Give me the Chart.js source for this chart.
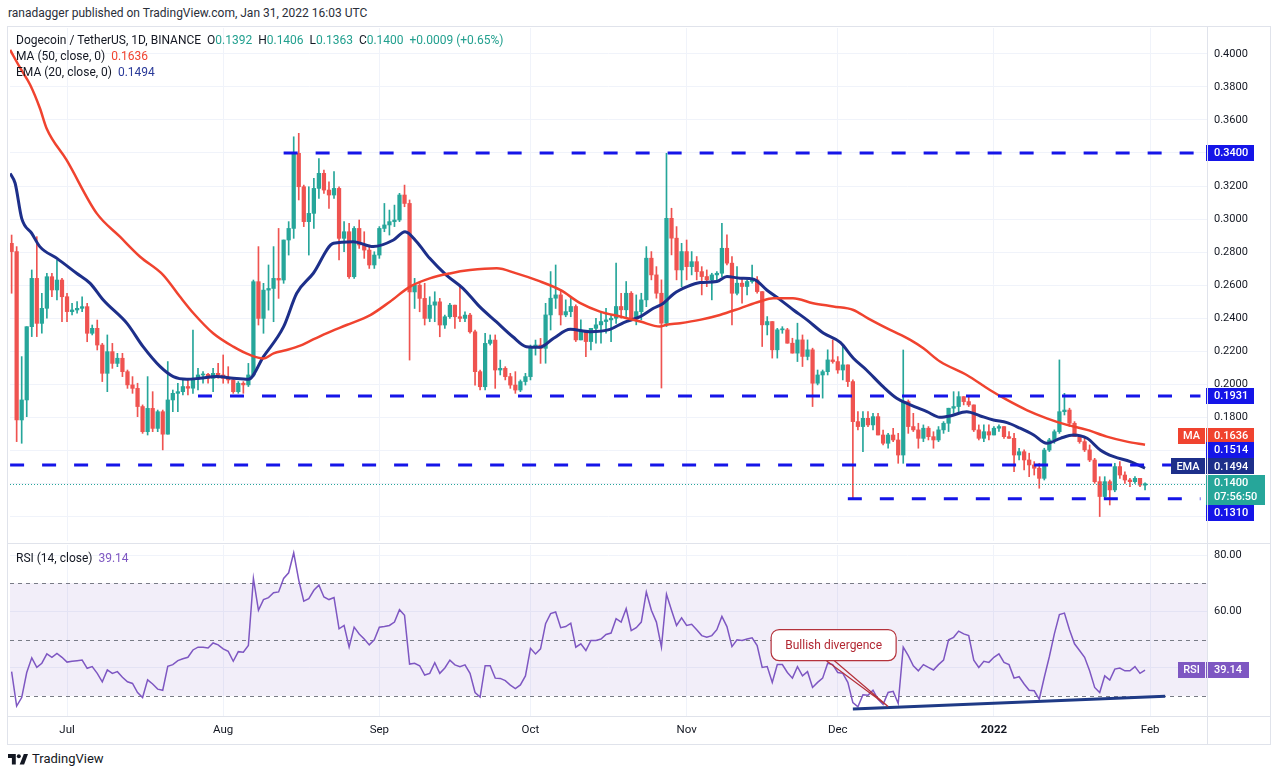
<!DOCTYPE html>
<html>
<head>
<meta charset="utf-8">
<script src="https://cdn.jsdelivr.net/npm/chart.js@4.4.1/dist/chart.umd.min.js"></script>
<style>
  body { margin: 0; background: #fff; font-family: Roboto, "Noto Sans", sans-serif; color: #131722; }
  #wrap { position: relative; width: 1280px; height: 777px; overflow: hidden; }
  canvas { position: absolute; left: 0; }
  .txt { position: absolute; white-space: nowrap; font-size: 12px; line-height: 16px; }
  .ln { position: absolute; background: #e0e3eb; }
  .g { color: #22a08f; }
</style>
</head>
<body>
<div id="wrap">
  <div class="txt" style="left:8px;top:5px;color:#2a2e39">ranadagger published on TradingView.com, Jan 31, 2022 16:03 UTC</div>
  <canvas id="price" width="1280" height="543" style="top:0"></canvas>
  <canvas id="rsi" width="1280" height="201" style="top:543px"></canvas>

  <div class="ln" style="left:7px;top:26px;width:1264px;height:1px"></div>
  <div class="ln" style="left:7px;top:543px;width:1264px;height:1px"></div>
  <div class="ln" style="left:7px;top:716px;width:1264px;height:1px"></div>
  <div class="ln" style="left:7px;top:744px;width:1264px;height:1px"></div>
  <div class="ln" style="left:7px;top:26px;width:1px;height:719px"></div>
  <div class="ln" style="left:1270px;top:26px;width:1px;height:719px"></div>
  <div class="ln" style="left:1207px;top:26px;width:1px;height:719px"></div>

  <div class="txt" style="left:16px;top:32px">Dogecoin / TetherUS, 1D, BINANCE&nbsp; O<span class="g">0.1392</span>&nbsp; H<span class="g">0.1406</span>&nbsp; L<span class="g">0.1363</span>&nbsp; C<span class="g">0.1400</span>&nbsp; <span class="g">+0.0009 (+0.65%)</span></div>
  <div class="txt" style="left:16px;top:48px">MA (50, close, 0)&nbsp; <span style="color:#f0432f">0.1636</span></div>
  <div class="txt" style="left:16px;top:64px">EMA (20, close, 0)&nbsp; <span style="color:#2a3a99">0.1494</span></div>
  <div class="txt" style="left:16px;top:550px">RSI (14, close)&nbsp; <span style="color:#7e57c2">39.14</span></div>

  <div class="txt" style="left:8px;top:751px;font-size:13px;display:flex;align-items:center">
    <svg width="20" height="14" viewBox="0 0 36 24" style="margin-right:4px"><path d="M14 22H7V10H0V3h14v19zM29 22h-8l7.5-19h7.5L29 22z" fill="#131722"/><circle cx="19.5" cy="7" r="3.6" fill="#131722"/></svg>TradingView
  </div>
</div>
<script>
const UP = '#26a69a';
const DOWN = '#ef5350';
const MA_RED = '#f0432f';
const EMA_NAVY = '#1d2f8a';
const LEVEL_BLUE = '#1515e8';
const RSI_PURPLE = '#7e57c2';

// daily candles, day 0 = 20 Jun 2021
const opens = [
  .2854,.2804,.1786,.1907,.2350,.2642,.2370,.2461,.2652,.2572,
  .2632,.2531,.2441,.2451,.2461,.2471,.2310,.2340,.2239,.2068,
  .2199,.2128,.2159,.2078,.1998,.1977,.1867,.1715,.1856,.1735,
  .1836,.1700,.1907,.1947,.1957,.1988,.1978,.2038,.2058,.2062,
  .2038,.2068,.2058,.2038,.2028,.1957,.2008,.1998,.2058,.2622,
  .2400,.2571,.2581,.2642,.2632,.2874,.2944,.3398,.3196,.2985,
  .3035,.3186,.3277,.3176,.3146,.3186,.2884,.2924,.2652,.2944,
  .2844,.2813,.2723,.2783,.2944,.2965,.2985,.2995,.3146,.3095,
  .2560,.2601,.2521,.2400,.2480,.2500,.2360,.2410,.2480,.2410,
  .2400,.2420,.2319,.2078,.1987,.2249,.2269,.2088,.2098,.2048,
  .1997,.1967,.2018,.2048,.2229,.2239,.2219,.2421,.2522,.2542,
  .2421,.2441,.2472,.2270,.2320,.2260,.2340,.2361,.2381,.2391,
  .2401,.2472,.2452,.2552,.2401,.2441,.2512,.2764,.2663,.2552,
  .2371,.3005,.2885,.2693,.2804,.2713,.2743,.2683,.2653,.2633,
  .2663,.2673,.2824,.2734,.2552,.2613,.2593,.2623,.2633,.2562,
  .2361,.2381,.2210,.2331,.2331,.2250,.2190,.2270,.2170,.2210,
  .2008,.2058,.2078,.2149,.2139,.2088,.2119,.2018,.1776,.1746,
  .1796,.1756,.1806,.1695,.1645,.1695,.1665,.1574,.1897,.1746,
  .1726,.1675,.1736,.1685,.1665,.1726,.1766,.1857,.1867,.1927,
  .1897,.1877,.1726,.1675,.1715,.1695,.1736,.1746,.1685,.1675,
  .1574,.1594,.1544,.1514,.1494,.1433,.1604,.1665,.1715,.1836,
  .1846,.1766,.1685,.1655,.1605,.1544,.1413,.1323,.1413,.1363,
  .1504,.1453,.1423,.1413,.1433,.1392
];
const highs = [
  .2904,.2834,.2169,.2350,.2693,.2894,.2552,.2673,.2673,.2753,
  .2642,.2551,.2491,.2501,.2531,.2491,.2360,.2390,.2249,.2300,
  .2249,.2189,.2189,.2088,.2048,.2008,.1877,.2048,.1957,.1846,
  .1846,.2139,.1967,.2008,.2038,.2038,.2330,.2098,.2078,.2068,
  .2098,.2128,.2179,.2108,.2038,.2018,.2018,.2128,.2632,.2834,
  .2612,.2723,.2834,.2944,.2874,.2985,.3498,.3519,.3206,.3196,
  .3247,.3367,.3297,.3226,.3287,.3196,.2985,.2975,.2955,.2995,
  .2924,.2843,.2803,.2955,.3095,.3055,.3085,.3156,.3206,.3116,
  .2642,.2611,.2612,.2531,.2561,.2521,.2420,.2491,.2480,.2601,
  .2440,.2430,.2330,.2088,.2310,.2300,.2300,.2148,.2108,.2068,
  .2078,.2028,.2068,.2239,.2269,.2279,.2491,.2683,.2723,.2572,
  .2512,.2522,.2482,.2391,.2320,.2340,.2401,.2431,.2461,.2421,
  .2734,.2552,.2623,.2562,.2542,.2552,.2834,.2804,.2713,.2633,
  .3398,.3066,.2955,.2854,.2874,.2804,.2774,.2713,.2693,.2673,
  .2683,.2975,.2905,.2774,.2713,.2643,.2633,.2723,.2653,.2562,
  .2411,.2381,.2340,.2350,.2340,.2280,.2371,.2300,.2270,.2220,
  .2088,.2088,.2210,.2270,.2169,.2230,.2119,.2028,.1836,.1836,
  .1836,.1826,.1826,.1725,.1705,.1735,.1705,.2209,.1907,.1826,
  .1766,.1756,.1746,.1715,.1746,.1776,.1857,.1957,.1957,.1927,
  .1927,.1877,.1756,.1756,.1756,.1746,.1756,.1746,.1716,.1705,
  .1615,.1605,.1585,.1534,.1524,.1615,.1675,.1726,.2149,.1947,
  .1857,.1776,.1695,.1675,.1635,.1554,.1443,.1443,.1423,.1524,
  .1534,.1473,.1433,.1443,.1433,.1406
];
const lows = [
  .2552,.1655,.1645,.1806,.2290,.2290,.2310,.2401,.2531,.2511,
  .2380,.2380,.2421,.2431,.2441,.2259,.2300,.2209,.2018,.1957,
  .2098,.2108,.2048,.1977,.1947,.1806,.1705,.1695,.1715,.1715,
  .1605,.1700,.1836,.1836,.1937,.1937,.1947,.1967,.2008,.2008,
  .1957,.2038,.2008,.2008,.1947,.1947,.1947,.1988,.2048,.2360,
  .2310,.2450,.2380,.2521,.2612,.2783,.2884,.3116,.2955,.2783,
  .2944,.3126,.3156,.3065,.3126,.2753,.2803,.2642,.2642,.2823,
  .2763,.2702,.2702,.2763,.2924,.2904,.2955,.2985,.3075,.2148,
  .2460,.2440,.2360,.2380,.2380,.2289,.2340,.2400,.2340,.2380,
  .2380,.2310,.1997,.1967,.1967,.2239,.1977,.2058,.2028,.1977,
  .1947,.1957,.1997,.2028,.2178,.2128,.2129,.2330,.2460,.2360,
  .2410,.2410,.2260,.2270,.2169,.2210,.2250,.2250,.2310,.2260,
  .2370,.2401,.2411,.2401,.2361,.2391,.2471,.2633,.2522,.1979,
  .2351,.2784,.2633,.2592,.2633,.2663,.2633,.2542,.2592,.2512,
  .2633,.2653,.2723,.2361,.2542,.2492,.2542,.2613,.2552,.2230,
  .2300,.2160,.2160,.2310,.2250,.2190,.2139,.2109,.2149,.1867,
  .1998,.1918,.2058,.2129,.2068,.2028,.1988,.1312,.1726,.1595,
  .1746,.1726,.1695,.1635,.1615,.1655,.1524,.1524,.1705,.1716,
  .1615,.1655,.1665,.1615,.1655,.1705,.1716,.1826,.1836,.1877,
  .1867,.1716,.1665,.1655,.1665,.1695,.1716,.1675,.1675,.1474,
  .1544,.1484,.1443,.1453,.1373,.1423,.1595,.1645,.1705,.1816,
  .1746,.1685,.1645,.1595,.1534,.1403,.1202,.1312,.1272,.1352,
  .1433,.1403,.1383,.1403,.1383,.1363
];
const closes = [
  .2804,.1786,.1907,.2350,.2642,.2370,.2461,.2652,.2572,.2632,
  .2531,.2441,.2451,.2461,.2471,.2310,.2340,.2239,.2068,.2199,
  .2128,.2159,.2078,.1998,.1977,.1867,.1715,.1856,.1735,.1836,
  .1700,.1907,.1947,.1957,.1988,.1978,.2038,.2058,.2062,.2038,
  .2068,.2058,.2038,.2028,.1957,.2008,.1998,.2058,.2622,.2400,
  .2571,.2581,.2642,.2632,.2874,.2944,.3398,.3196,.2985,.3035,
  .3186,.3277,.3176,.3146,.3186,.2884,.2924,.2652,.2944,.2844,
  .2813,.2723,.2783,.2944,.2965,.2985,.2995,.3146,.3095,.2560,
  .2601,.2521,.2400,.2480,.2500,.2360,.2410,.2480,.2410,.2400,
  .2420,.2319,.2078,.1987,.2249,.2269,.2088,.2098,.2048,.1997,
  .1967,.2018,.2048,.2229,.2239,.2219,.2421,.2522,.2542,.2421,
  .2441,.2472,.2270,.2320,.2260,.2340,.2361,.2381,.2391,.2401,
  .2472,.2452,.2552,.2401,.2441,.2512,.2764,.2663,.2552,.2371,
  .3005,.2885,.2693,.2804,.2713,.2743,.2683,.2653,.2633,.2663,
  .2673,.2824,.2734,.2552,.2613,.2593,.2623,.2633,.2562,.2361,
  .2381,.2210,.2331,.2331,.2250,.2190,.2270,.2170,.2210,.2008,
  .2058,.2078,.2149,.2139,.2088,.2119,.2018,.1776,.1746,.1796,
  .1756,.1806,.1695,.1645,.1695,.1665,.1574,.1897,.1746,.1726,
  .1675,.1736,.1685,.1665,.1726,.1766,.1857,.1867,.1927,.1897,
  .1877,.1726,.1675,.1715,.1695,.1736,.1746,.1685,.1675,.1574,
  .1594,.1544,.1514,.1494,.1433,.1604,.1665,.1715,.1836,.1846,
  .1766,.1685,.1655,.1605,.1544,.1413,.1323,.1413,.1363,.1504,
  .1453,.1423,.1413,.1433,.1392,.1400
];

// RSI (14, close), one value per candle
const rsiValues = [
  38.6,26.4,29.4,38.3,43.5,40.1,41.6,44.9,43.7,45.1,
  43.7,42.0,42.3,42.5,42.7,39.8,40.4,38.0,35.0,39.2,
  38.0,38.6,36.6,35.0,34.4,31.2,29.4,35.7,34.2,32.4,
  32.0,40.5,41.1,42.5,43.2,43.7,46.3,47.3,47.3,47.0,
  48.8,48.1,46.7,45.8,42.3,45.7,45.5,47.9,71.7,60.4,
  64.2,64.9,66.6,66.9,71.7,73.7,80.8,71.1,63.6,64.5,
  67.5,69.3,65.1,64.2,64.9,53.8,55.0,47.3,54.4,52.0,
  50.2,48.1,49.9,54.4,54.6,55.0,56.2,60.6,58.6,41.3,
  41.6,40.7,37.4,38.0,41.8,38.0,39.9,42.7,41.0,40.4,
  41.0,38.0,31.2,29.6,40.7,40.7,36.3,36.2,35.4,33.8,
  32.6,33.9,37.1,46.9,44.9,46.7,55.6,59.2,59.8,54.2,
  54.6,55.8,47.3,48.5,46.1,49.7,49.7,50.2,51.8,52.3,
  57.4,56.2,61.0,53.2,54.2,56.2,66.9,60.4,56.2,47.3,
  66.1,60.4,55.0,57.7,55.0,55.4,53.5,51.4,50.8,51.4,
  53.5,58.2,54.6,47.5,49.9,49.7,50.2,50.6,47.9,40.1,
  40.4,34.8,41.1,41.1,38.3,36.3,40.4,37.1,38.6,33.0,
  34.8,36.3,41.6,41.1,38.3,38.0,34.8,27.6,26.1,30.4,
  30.2,32.0,28.8,27.0,31.2,31.6,27.3,47.3,44.3,40.7,
  38.9,41.1,40.1,39.2,41.1,42.7,49.9,50.8,53.0,52.0,
  51.4,42.7,40.1,42.3,41.9,43.7,44.9,41.9,41.1,36.3,
  36.8,34.2,32.0,31.8,28.8,36.6,43.9,52.0,58.9,59.4,
  53.5,48.5,46.1,43.7,38.9,33.0,31.2,37.1,35.6,39.5,
  39.9,38.9,38.9,40.4,38.0,39.14
];

// MA 50 and EMA 20 at these days
const maDays = [-0.3,1.7,3.7,5.6,7,10.9,16.9,21.5,25.5,30.1,33.4,36.1,40,44,47.3,50,52,54.6,57.3,59.2,62.5,66.5,71.2,75.1,79.1,83,87,91,96.3,100.2,104.5,108.9,112.9,116.8,120.8,124.8,128.7,130,132.7,136.6,140.6,144.6,148.5,151.2,155.1,159.1,163.1,167.1,170,174.4,178.4,181,184.3,189.6,194.2,197.6,201.5,205.5,209.5,213.5,217.4,221.4,225];
const maValues = [.4023,.3914,.3811,.3672,.3545,.3358,.3035,.2894,.2773,.2662,.2532,.2431,.2310,.2229,.2179,.2158,.2189,.2209,.2235,.2263,.2310,.2360,.2420,.2501,.2592,.2642,.2672,.2692,.2703,.2672,.2628,.2572,.2492,.2441,.2411,.2381,.2351,.2361,.2371,.2391,.2421,.2461,.2502,.2522,.2522,.2492,.2472,.2451,.2400,.2330,.2270,.2219,.2139,.2058,.1967,.1907,.1846,.1796,.1756,.1726,.1685,.1655,.1636];
const emaDays = [-0.3,0.7,2,4,5.6,9,12.9,15.6,18.2,22.9,26.1,29.5,32.1,34.8,37.4,40.7,44,47,50,54,56.6,59.9,63.9,67.8,71.8,75.8,78.1,80.4,83,86.3,89.6,92.9,96.2,99.5,102.2,104.8,107.6,110.9,114.8,118.8,121.5,124.8,127.4,129.4,131.4,134.1,136.7,140,142,144.6,147.3,149.9,152.6,155.2,157.9,161.2,164.5,167.1,169.7,173,175.7,178.4,181.7,184.3,186.3,189.6,192.3,194.9,197.6,200.2,202.9,205.5,208.2,210.8,213.5,216.1,218.8,222.1,225];
const emaValues = [.3277,.3217,.3005,.2914,.2834,.2763,.2673,.2612,.2511,.2370,.2229,.2108,.2048,.2032,.2038,.2048,.2038,.2032,.2169,.2350,.2552,.2673,.2854,.2864,.2834,.2874,.2924,.2864,.2763,.2662,.2582,.2471,.2380,.2289,.2229,.2225,.2280,.2334,.2320,.2334,.2375,.2411,.2461,.2492,.2548,.2592,.2617,.2623,.2653,.2643,.2637,.2572,.2512,.2451,.2391,.2310,.2255,.2159,.2088,.1987,.1917,.1877,.1836,.1802,.1810,.1836,.1810,.1786,.1770,.1736,.1695,.1645,.1675,.1695,.1675,.1605,.1564,.1534,.1494];

const monthDays = [11, 42, 73, 103, 134, 164, 195, 226];
const monthLabels = ['Jul', 'Aug', 'Sep', 'Oct', 'Nov', 'Dec', '2022', 'Feb'];
const priceTicks = [0.12, 0.14, 0.16, 0.18, 0.20, 0.22, 0.24, 0.26, 0.28, 0.30, 0.32, 0.34, 0.36, 0.38, 0.40];
const rsiTicks = [40, 60, 80];

// horizontal levels drawn on the price pane
const levelPrices = [0.34, 0.1931, 0.1514, 0.1310];
const levelFrom = [54, 37, -0.3, 166];
const levelTo = 236;
const rsiLevels = [70, 50, 30];
const trendDays = [167, 229];
const trendValues = [25.3, 29.9];

const X_MIN = -0.32, X_MAX = 237.3;
const P_MIN = 0.105417, P_MAX = 0.415574;
const R_MIN = 22.5, R_MAX = 83.571;

Chart.defaults.font.family = 'Roboto, "Noto Sans", sans-serif';
Chart.defaults.color = '#131722';

const days = closes.map((c, i) => i);
const candleColors = days.map(i => closes[i] >= opens[i] ? UP : DOWN);

function box(ctx, x, y, w, h, bg, lines, center) {
  ctx.fillStyle = bg;
  ctx.fillRect(x, Math.round(y - h / 2), w, h);
  ctx.fillStyle = '#fff';
  ctx.font = '500 11px Roboto, sans-serif';
  ctx.textBaseline = 'middle';
  ctx.textAlign = center ? 'center' : 'left';
  const tx = center ? x + w / 2 : x + 8;
  lines.forEach((t, i) => ctx.fillText(t, tx, y - (lines.length - 1) * 7 + i * 14 + 0.5));
}

// keep the plot area exactly where the padding puts it
function noPad(s) {
  s.paddingTop = 0; s.paddingBottom = 0; s.paddingLeft = 0; s.paddingRight = 0;
}

const xGrid = {
  type: 'linear', min: X_MIN, max: X_MAX, offset: false,
  grid: { color: '#f0f3fa', drawTicks: false, offset: false },
  border: { display: false },
  afterBuildTicks: s => { s.ticks = monthDays.map(v => ({ value: v })); }
};

const pricePlugin = {
  id: 'priceMarks',
  afterDatasetsDraw(chart) {
    const { ctx, chartArea } = chart;
    const y = Math.round(chart.scales.y.getPixelForValue(closes[closes.length - 1])) + 0.5;
    ctx.save();
    ctx.strokeStyle = UP;
    ctx.lineWidth = 1;
    ctx.setLineDash([1, 2]);
    ctx.beginPath();
    ctx.moveTo(chartArea.left, y);
    ctx.lineTo(chartArea.right, y);
    ctx.stroke();
    ctx.restore();
  },
  afterDraw(chart) {
    const ctx = chart.ctx;
    const yOf = v => chart.scales.y.getPixelForValue(v);
    const ax = 1206;
    const ma = maValues[maValues.length - 1];
    const ema = emaValues[emaValues.length - 1];
    const last = closes[closes.length - 1];
    ctx.save();
    box(ctx, ax, yOf(levelPrices[0]), 48, 16, LEVEL_BLUE, [levelPrices[0].toFixed(4)]);
    box(ctx, ax, yOf(levelPrices[1]), 48, 16, LEVEL_BLUE, [levelPrices[1].toFixed(4)]);
    box(ctx, 1178, yOf(ma) - 9, 27, 16, MA_RED, ['MA'], true);
    box(ctx, ax, yOf(ma) - 9, 48, 16, MA_RED, [ma.toFixed(4)]);
    box(ctx, ax, yOf(levelPrices[2]) - 15, 48, 16, LEVEL_BLUE, [levelPrices[2].toFixed(4)]);
    box(ctx, 1171, yOf(ema) - 2, 34, 16, EMA_NAVY, ['EMA'], true);
    box(ctx, ax, yOf(ema) - 2, 48, 16, EMA_NAVY, [ema.toFixed(4)]);
    box(ctx, ax, yOf(last) + 6, 59, 30, UP, [last.toFixed(4), '07:56:50']);
    box(ctx, ax, yOf(levelPrices[3]) + 14, 48, 16, LEVEL_BLUE, [levelPrices[3].toFixed(4)]);
    ctx.restore();
  }
};

new Chart(document.getElementById('price'), {
  type: 'bar',
  data: {
    datasets: [
      ...levelPrices.map((p, i) => ({
        type: 'line', data: [{ x: levelFrom[i], y: p }, { x: levelTo, y: p }],
        borderColor: LEVEL_BLUE, borderWidth: 3, borderDash: [14, 18], pointRadius: 0, order: 1
      })),
      {
        type: 'line', data: maDays.map((d, i) => ({ x: d, y: maValues[i] })),
        borderColor: MA_RED, borderWidth: 2.5, pointRadius: 0, cubicInterpolationMode: 'monotone', order: 2
      },
      {
        type: 'line', data: emaDays.map((d, i) => ({ x: d, y: emaValues[i] })),
        borderColor: EMA_NAVY, borderWidth: 3, pointRadius: 0, cubicInterpolationMode: 'monotone', order: 2
      },
      {
        data: days.map(i => ({ x: i, y: [opens[i], closes[i]] })),
        backgroundColor: candleColors, barThickness: 3.6, minBarLength: 1, grouped: false, order: 3
      },
      {
        data: days.map(i => ({ x: i, y: [lows[i], highs[i]] })),
        backgroundColor: candleColors, barThickness: 1, grouped: false, order: 4
      }
    ]
  },
  options: {
    responsive: false, animation: false, devicePixelRatio: 1,
    layout: { padding: { left: 10, right: 10, top: 28, bottom: 2 } },
    plugins: { legend: { display: false }, tooltip: { enabled: false } },
    scales: {
      x: Object.assign({}, xGrid, { ticks: { display: false }, afterFit: s => { s.height = 0; noPad(s); } }),
      y: {
        position: 'right', min: P_MIN, max: P_MAX,
        grid: { color: '#f0f3fa', drawTicks: false },
        border: { display: false },
        ticks: { padding: 7, font: { size: 11 }, callback: v => v.toFixed(4) },
        afterBuildTicks: s => { s.ticks = priceTicks.map(v => ({ value: v })); },
        afterFit: s => { s.width = 63; noPad(s); }
      }
    }
  },
  plugins: [pricePlugin]
});

function roundedRect(ctx, x, y, w, h, r) {
  ctx.beginPath();
  ctx.moveTo(x + r, y);
  ctx.arcTo(x + w, y, x + w, y + h, r);
  ctx.arcTo(x + w, y + h, x, y + h, r);
  ctx.arcTo(x, y + h, x, y, r);
  ctx.arcTo(x, y, x + w, y, r);
  ctx.closePath();
}

const rsiPlugin = {
  id: 'rsiMarks',
  beforeDatasetsDraw(chart) {
    const { ctx, chartArea } = chart;
    const yOf = v => chart.scales.y.getPixelForValue(v);
    ctx.save();
    ctx.fillStyle = 'rgba(126, 87, 194, 0.1)';
    ctx.fillRect(chartArea.left, yOf(rsiLevels[0]), chartArea.right - chartArea.left, yOf(rsiLevels[2]) - yOf(rsiLevels[0]));
    ctx.strokeStyle = '#787b86';
    ctx.lineWidth = 1;
    ctx.setLineDash([4, 4]);
    rsiLevels.forEach(v => {
      const y = Math.round(yOf(v)) + 0.5;
      ctx.beginPath();
      ctx.moveTo(chartArea.left, y);
      ctx.lineTo(chartArea.right, y);
      ctx.stroke();
    });
    ctx.restore();
  },
  afterDraw(chart) {
    const ctx = chart.ctx;
    const last = rsiValues[rsiValues.length - 1];
    const y = chart.scales.y.getPixelForValue(last);
    ctx.save();
    box(ctx, 1178, y, 27, 16, RSI_PURPLE, ['RSI'], true);
    box(ctx, 1206, y, 43, 16, RSI_PURPLE, [last.toFixed(2)]);

    // callout pointing at the December RSI low
    const tx = chart.scales.x.getPixelForValue(174);
    const ty = chart.scales.y.getPixelForValue(26.2);
    const bx = tx - 117, by = ty - 77, bw = 125, bh = 31;
    ctx.strokeStyle = '#b5323b';
    ctx.lineWidth = 1.2;
    ctx.beginPath();
    ctx.moveTo(tx - 62, by + bh);
    ctx.lineTo(tx, ty);
    ctx.lineTo(tx - 54, by + bh);
    ctx.stroke();
    roundedRect(ctx, bx, by, bw, bh, 8);
    ctx.fillStyle = '#fff';
    ctx.fill();
    ctx.stroke();
    ctx.fillStyle = '#b22833';
    ctx.font = '12px Roboto, sans-serif';
    ctx.textAlign = 'center';
    ctx.textBaseline = 'middle';
    ctx.fillText('Bullish divergence', bx + bw / 2, by + bh / 2 + 1);
    ctx.restore();
  }
};

new Chart(document.getElementById('rsi'), {
  type: 'line',
  data: {
    datasets: [
      {
        data: trendDays.map((d, i) => ({ x: d, y: trendValues[i] })),
        borderColor: '#1f3a86', borderWidth: 3, pointRadius: 0, order: 1
      },
      {
        data: days.map(i => ({ x: i, y: rsiValues[i] })),
        borderColor: RSI_PURPLE, borderWidth: 1.5, pointRadius: 0, tension: 0, order: 2
      }
    ]
  },
  options: {
    responsive: false, animation: false, devicePixelRatio: 1,
    layout: { padding: { left: 10, right: 10, top: 2, bottom: 0 } },
    plugins: { legend: { display: false }, tooltip: { enabled: false } },
    scales: {
      x: Object.assign({}, xGrid, {
        ticks: {
          padding: 6, autoSkip: false, maxRotation: 0,
          font: ctx => ({ size: 11.5, weight: ctx.tick && ctx.tick.value === 195 ? 'bold' : 'normal' }),
          callback: v => monthLabels[monthDays.indexOf(v)]
        },
        afterFit: s => { s.height = 27; noPad(s); }
      }),
      y: {
        position: 'right', min: R_MIN, max: R_MAX,
        grid: { color: '#f0f3fa', drawTicks: false },
        border: { display: false },
        ticks: { padding: 7, font: { size: 11 }, callback: v => v.toFixed(2) },
        afterBuildTicks: s => { s.ticks = rsiTicks.map(v => ({ value: v })); },
        afterFit: s => { s.width = 63; noPad(s); }
      }
    }
  },
  plugins: [rsiPlugin]
});
</script>
</body>
</html>
